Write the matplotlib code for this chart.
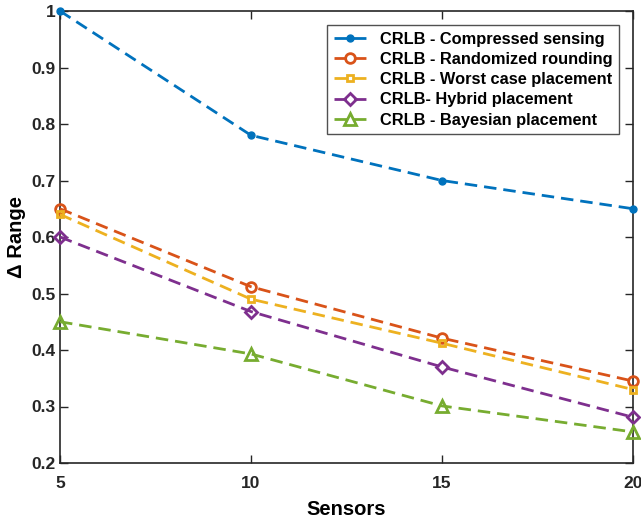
import matplotlib.pyplot as plt

plt.rcParams['font.family'] = ['Liberation Sans', 'DejaVu Sans']
plt.rcParams['font.weight'] = 'bold'

sensors = [5, 10, 15, 20]
crlb_cs = [1.0, 0.78, 0.70, 0.65]
crlb_rr = [0.65, 0.512, 0.421, 0.345]
crlb_wc = [0.64, 0.49, 0.412, 0.33]
crlb_hy = [0.60, 0.468, 0.37, 0.281]
crlb_by = [0.45, 0.393, 0.301, 0.255]

labels = ['CRLB - Compressed sensing', 'CRLB - Randomized rounding',
          'CRLB - Worst case placement', 'CRLB- Hybrid placement',
          'CRLB - Bayesian placement']

fig = plt.figure(figsize=(6.41, 5.22), dpi=100)
ax = fig.add_axes([60 / 641, 59 / 522, 573 / 641, 452 / 522])

dash = (4.5, 2.5)
ax.plot(sensors, crlb_cs, '--', color='#0072BD', lw=2, marker='o', ms=5,
        mfc='#0072BD', label=labels[0], clip_on=False, zorder=3, dashes=dash)
ax.plot(sensors, crlb_rr, '--', color='#D95319', lw=2, marker='o', ms=7,
        mfc='none', mew=2, label=labels[1], clip_on=False, zorder=3, dashes=dash)
ax.plot(sensors, crlb_wc, '--', color='#EDB120', lw=2, marker='s', ms=5,
        mfc='none', mew=2, label=labels[2], clip_on=False, zorder=3, dashes=dash)
ax.plot(sensors, crlb_hy, '--', color='#7E2F8E', lw=2, marker='D', ms=6,
        mfc='none', mew=2, label=labels[3], clip_on=False, zorder=3, dashes=dash)
ax.plot(sensors, crlb_by, '--', color='#77AC30', lw=2, marker='^', ms=8,
        mfc='none', mew=2, label=labels[4], clip_on=False, zorder=3, dashes=dash)

ax.set_xlim(5, 20)
ax.set_ylim(0.2, 1.0)
ax.set_xticks([5, 10, 15, 20])
ax.set_yticks([0.2, 0.3, 0.4, 0.5, 0.6, 0.7, 0.8, 0.9, 1.0])
ax.set_yticklabels(['0.2', '0.3', '0.4', '0.5', '0.6', '0.7', '0.8', '0.9', '1'])
ax.tick_params(direction='in', top=True, right=True, length=6, width=1,
               labelsize=12.5, colors='#262626', pad=3)
ax.tick_params(axis='x', pad=9.5)
for lab in ax.get_xticklabels() + ax.get_yticklabels():
    lab.set_fontweight('bold')
for sp in ax.spines.values():
    sp.set_color('#262626')
    sp.set_linewidth(1.2)

ax.set_xlabel('Sensors', fontsize=14.5, fontweight='bold', labelpad=6)
ax.set_ylabel('Δ Range', fontsize=14.5, fontweight='bold', labelpad=4)

leg = ax.legend(loc='upper right', bbox_to_anchor=(0.9755, 0.969),
                prop={'weight': 'bold', 'size': 11.8}, frameon=True, fancybox=False,
                edgecolor='#262626', handlelength=2, borderpad=0.4,
                labelspacing=0.32, handletextpad=0.8, borderaxespad=0)
leg.get_frame().set_linewidth(1)

fig.savefig('out.png', dpi=100)
